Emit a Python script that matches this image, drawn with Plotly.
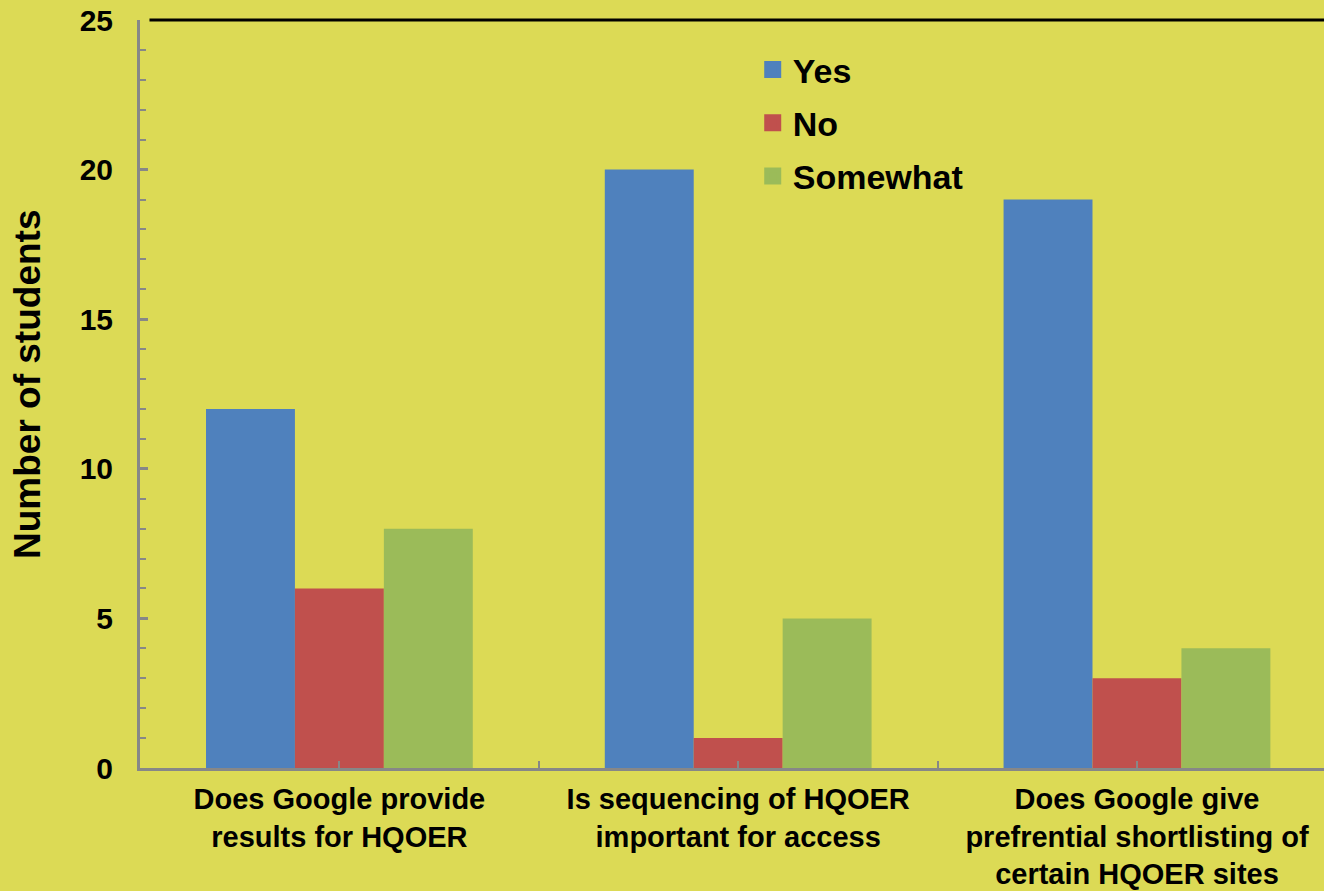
import plotly.graph_objects as go

categories = [
    "Does Google provide<br>results for HQOER",
    "Is sequencing of HQOER<br>important for access",
    "Does Google give<br>prefrential shortlisting of<br>certain HQOER sites",
]
series_names = ["Yes", "No", "Somewhat"]
yes_vals = [12, 20, 19]
no_vals = [6, 1, 3]
somewhat_vals = [8, 5, 4]
y_ticks = [0, 5, 10, 15, 20, 25]

BG = "#DCDA55"
AXIS = "#878787"
COLORS = ["#4F81BD", "#C0504D", "#9BBB59"]
FONT = "Liberation Sans, Arial, sans-serif"

xpos = list(range(len(categories)))

fig = go.Figure()
for name, vals, col in zip(series_names, [yes_vals, no_vals, somewhat_vals], COLORS):
    fig.add_trace(go.Bar(x=xpos, y=vals, name=name, showlegend=False,
                         marker=dict(color=col, line=dict(width=0))))
# legend entries (hidden overlay axis so they do not take a bar slot)
for i, (name, col) in enumerate(zip(series_names, COLORS)):
    fig.add_trace(go.Bar(x=[0], y=[0], name=f"<b>{name}</b>", xaxis="x2", yaxis="y2",
                         legendgroup=str(i), hoverinfo="skip",
                         marker=dict(color=col, line=dict(width=5, color=col))))

fig.update_layout(
    width=1324, height=891,
    margin=dict(l=140, r=0, t=20, b=123),
    paper_bgcolor=BG, plot_bgcolor=BG,
    barmode="group", bargap=0.331, bargroupgap=0,
    font=dict(family=FONT, color="black"),
    showlegend=True,
    legend=dict(x=0.5175, y=0.972, xanchor="left", yanchor="top",
                bgcolor="rgba(0,0,0,0)", font=dict(size=34, family=FONT, color="black"),
                tracegroupgap=6, itemwidth=30),
    xaxis=dict(
        range=[-0.5, 2.469], tickvals=xpos, ticktext=[f"<b>{c}</b>" for c in categories],
        tickfont=dict(size=29, family=FONT, color="black"), automargin=False,
        showline=True, linecolor=AXIS, linewidth=3,
        ticks="inside", ticklen=7, tickcolor=AXIS, tickwidth=2,
        minor=dict(tickvals=[0.5, 1.5], ticks="inside", ticklen=7, tickcolor=AXIS, tickwidth=2),
        showgrid=False, zeroline=False, ticklabelstandoff=3,
    ),
    yaxis=dict(
        range=[0, 25], tickvals=y_ticks, ticktext=[f"<b>{v}</b>" for v in y_ticks],
        tickfont=dict(size=30, family=FONT, color="black"), automargin=False,
        showline=True, linecolor=AXIS, linewidth=3,
        ticks="inside", ticklen=8, tickcolor=AXIS, tickwidth=3,
        minor=dict(dtick=1, ticks="inside", ticklen=6, tickcolor=AXIS, tickwidth=2),
        showgrid=False, zeroline=False, ticklabelstandoff=18,
    ),
    xaxis2=dict(overlaying="x", visible=False, range=[5, 6]),
    yaxis2=dict(overlaying="y", visible=False, range=[5, 6]),
)
fig.add_shape(type="line", xref="paper", yref="paper", x0=0.008, x1=1, y0=1, y1=1,
              line=dict(color="black", width=3))
fig.add_annotation(text="<b>Number of students</b>", xref="paper", yref="paper",
                   x=(28 - 140) / 1184, y=(768 - 385) / 748, xanchor="center", yanchor="middle",
                   textangle=-90, showarrow=False,
                   font=dict(size=37, family=FONT, color="black"))
fig.write_html("out.html", config={"displayModeBar": False},
               post_script="document.body.style.margin='0';document.body.style.overflow='hidden';")
